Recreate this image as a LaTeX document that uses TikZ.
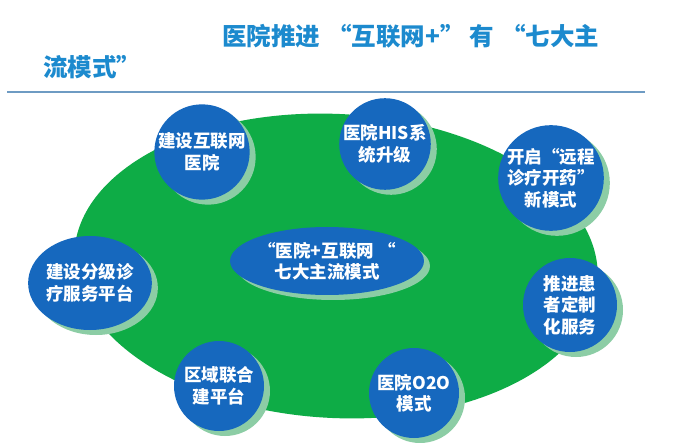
\documentclass[tikz,border=0pt]{standalone}
\usepackage{fontspec}
\newfontfamily\cjk{Noto Sans CJK SC}
\usetikzlibrary{shapes.geometric,shadows}
\definecolor{bluec}{RGB}{22,104,190}
\definecolor{greenc}{RGB}{14,172,70}
\definecolor{shadowc}{RGB}{140,205,165}
\definecolor{titlec}{RGB}{28,138,206}
\definecolor{rulec}{RGB}{110,155,195}
\tikzset{
  bub/.style={circle, fill=bluec, inner sep=0pt, align=center, text=white,
    font=\cjk\bfseries\fontsize{17.5}{21.5}\selectfont,
    general shadow={fill=shadowc, shadow xshift=6pt, shadow yshift=-5pt}},
  ebub/.style={bub, ellipse},
  titletxt/.style={anchor=base west, inner sep=0pt, text=titlec,
    font=\cjk\bfseries\fontsize{24.5}{28}\selectfont},
}
\begin{document}
\begin{tikzpicture}[x=1pt,y=-1pt]
\useasboundingbox (0,0) rectangle (674,443);
\fill[white] (0,0) rectangle (674,443);
% title
\node[titletxt] (t1) at (222,46) {医院推进\hspace{7pt}“互联网+”\hspace{5pt}有\hspace{7pt}“七大主};
\node[titletxt] (t2) at (43,77) {流模式”};
\draw[rulec, line width=2pt] (7,92) -- (645,92);
% big green ellipse
\node[ellipse, fill=greenc, minimum width=524, minimum height=304, inner sep=0pt, rotate=-3] (bg) at (336,266) {};
% center
\node[ebub, minimum width=150, minimum height=68] (ctr) at (327,261) {“医院+互联网 “\\七大主流模式};
% satellites
\node[bub, minimum size=94] (s1) at (202,152) {建设互联网\\医院};
\node[bub, minimum size=90] (s2) at (385,144) {医院HIS系\\统升级};
\node[bub, minimum size=94] (s3) at (551,178) {开启“远程\\诊疗开药”\\新模式};
\node[bub, minimum size=94] (s4) at (570,305) {推进患\\者定制\\化服务};
\node[bub, minimum size=90] (s5) at (414,393) {医院O2O\\模式};
\node[bub, minimum size=90] (s6) at (219,386) {区域联合\\建平台};
\node[ebub, minimum width=116, minimum height=94] (s7) at (90,283) {建设分级诊\\疗服务平台};
\end{tikzpicture}
\end{document}
